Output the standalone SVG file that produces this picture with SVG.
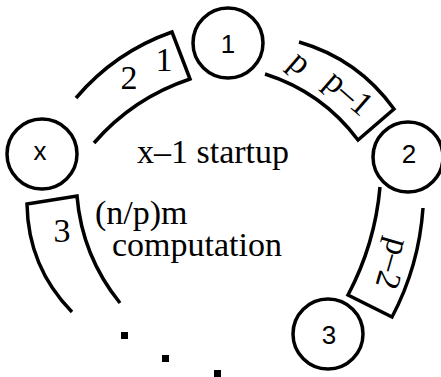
<svg xmlns="http://www.w3.org/2000/svg" width="441" height="377" viewBox="0 0 441 377">
<style>
.node circle{fill:#fff;stroke:#000;stroke-width:3.5}
.node text{font-family:'Liberation Sans',Arial,sans-serif;font-size:26px;text-anchor:middle;fill:#000}
.seg{fill:none;stroke:#000;stroke-width:3.5;stroke-linejoin:miter}
.t{font-family:'Liberation Serif','DejaVu Serif',serif;font-size:34px;fill:#000}
.m{text-anchor:middle}
</style>
<rect width="441" height="377" fill="#fff"/>
<g id="connectors">
<path class="seg" d="M76,98 Q115,52 172,32 L190,79 Q133,98 94,143"/>
<path class="seg" d="M299,42 Q358,59 394,109 L358,140 Q322,92 265,74"/>
<path class="seg" d="M380,187 Q375,244 348,295 L392,317 Q419,266 423,208"/>
<path class="seg" d="M72,312 Q28,267 27,204 L77,196 Q82,256 120,303"/>
</g>
<g id="node-x" class="node"><circle cx="42" cy="154" r="35"/><text x="40" y="160">x</text></g>
<g id="node-1" class="node"><circle cx="228" cy="43" r="35"/><text x="228" y="53">1</text></g>
<g id="node-2" class="node"><circle cx="408" cy="157" r="35"/><text x="409" y="163">2</text></g>
<g id="node-3" class="node"><circle cx="328" cy="334" r="35"/><text x="329" y="344">3</text></g>
<g id="labels">
<text class="t m" x="129" y="89">2</text>
<text class="t m" x="164" y="71">1</text>
<text class="t m" transform="translate(297,66) rotate(41)" y="6">p</text>
<text class="t m" transform="translate(347,95) rotate(41)" y="8">p–1</text>
<text class="t m" transform="translate(390,263) rotate(106)" y="8">p–2</text>
<text class="t m" x="62" y="242">3</text>
<text class="t" x="137" y="163">x–1 startup</text>
<text class="t" x="95" y="224">(n/p)m</text>
<text class="t" x="112" y="256">computation</text>
</g>
<g id="dots">
<rect x="121" y="332" width="7" height="7"/>
<rect x="162" y="355" width="7" height="7"/>
<rect x="214" y="370" width="7" height="7"/>
</g>
</svg>
